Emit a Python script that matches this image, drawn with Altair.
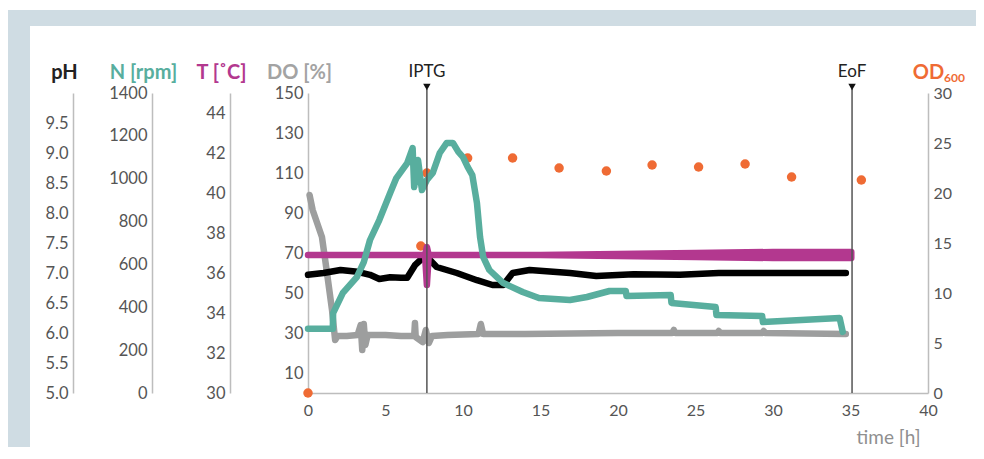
import altair as alt
import pandas as pd

# ---------------- data ----------------
ph_time = [0, 1.0, 2.1, 3.2, 4.0, 4.6, 5.3, 6.0, 6.4, 6.9, 7.4, 7.67, 8.3, 9.6,
           10.9, 11.9, 12.6, 13.2, 14.3, 16.9, 18.6, 21.0, 24.0, 26.5, 30.0, 34.7]
ph_value = [6.97, 7.0, 7.05, 7.02, 6.97, 6.9, 6.93, 6.92, 6.92, 7.13, 7.25, 7.27, 7.1, 7.0,
            6.88, 6.8, 6.8, 7.0, 7.05, 7.0, 6.95, 6.98, 6.97, 7.0, 7.0, 7.0]

n_time = [0, 1.6, 1.62, 2.25, 3.15, 3.6, 4.0, 4.6, 5.3, 5.7, 6.4, 6.75, 6.85, 7.1,
          7.35, 7.67, 8.05, 8.5, 8.95, 9.35, 9.7, 10.0, 10.3, 10.6, 10.9, 11.1, 11.3,
          11.7, 12.6, 13.85, 14.9, 16.9, 18.0, 19.45, 20.5, 20.55, 23.4, 23.45, 26.3,
          26.35, 29.3, 29.35, 34.3, 34.5]
n_value = [300, 300, 373, 467, 541, 611, 714, 807, 933, 1003, 1073, 1143, 961, 1087,
           947, 994, 1027, 1120, 1167, 1167, 1125, 1101, 1055, 1017, 887, 728, 635,
           574, 513, 471, 443, 434, 448, 476, 476, 453, 457, 420, 401,
           364, 359, 331, 350, 285]

t_time = [0, 7.55, 7.67, 7.79, 15, 20, 25, 30, 35.05]
t_low = [36.9, 36.9, 35.4, 36.9, 36.9, 36.85, 36.8, 36.75, 36.75]
t_high = [36.9, 36.9, 37.3, 36.9, 36.9, 36.95, 37.0, 37.05, 37.05]

do_time = [0.1, 0.3, 0.9, 1.2, 1.55, 1.75, 1.9, 2.5, 3.2, 3.4, 3.5, 3.6, 3.7, 3.85,
           5.0, 6.0, 6.85, 6.9, 6.95, 7.4, 7.6, 7.8, 8.0, 9.0, 11.0, 11.15, 11.3,
           14.0, 20.0, 23.5, 23.6, 23.7, 26.4, 26.5, 26.6, 29.3, 29.4, 29.5, 34.7]
do_value = [99, 91.5, 78, 61.5, 41.5, 26.5, 28.5, 28.5, 29, 34, 21.5, 34.5, 24, 29,
            29, 28.5, 28.5, 35, 28, 25.5, 31.5, 25, 28.5, 29, 29.5, 34.5, 29.5,
            29.5, 30, 30, 31.5, 30, 30, 31, 30, 30, 31, 30, 29.5]

od_time = [0, 7.28, 7.67, 10.3, 13.2, 16.2, 19.25, 22.2, 25.2, 28.2, 31.2, 35.7]
od_value = [0, 14.7, 22.0, 23.5, 23.5, 22.5, 22.2, 22.8, 22.6, 22.9, 21.6, 21.3]

event_names = ["IPTG", "EoF"]
event_time = [7.67, 35.1]

ph_ticks = [5.0, 5.5, 6.0, 6.5, 7.0, 7.5, 8.0, 8.5, 9.0, 9.5]
n_ticks = [0, 200, 400, 600, 800, 1000, 1200, 1400]
t_ticks = [30, 32, 34, 36, 38, 40, 42, 44]
do_ticks = [10, 30, 50, 70, 90, 110, 130, 150]
od_ticks = [0, 5, 10, 15, 20, 25, 30]
time_ticks = [0, 5, 10, 15, 20, 25, 30, 35, 40]

# ---------------- styles ----------------
FONT = "Lato"
LABEL = "#555555"
AXIS = "#bdbdbd"
C_PH = "#000000"
C_N = "#58ae9e"
C_T = "#b3388f"
C_DO = "#9d9e9e"
C_OD = "#ef6b34"
BAND = "#cfdce3"

W, H = 620, 300


def seq(t, v, name):
    return pd.DataFrame({"t": t, name: v, "i": list(range(len(t)))})


ph_df = seq(ph_time, ph_value, "pH")
n_df = seq(n_time, n_value, "N")
do_df = seq(do_time, do_value, "DO")
od_df = seq(od_time, od_value, "OD")
t_df = pd.DataFrame({"t": t_time, "lo": t_low, "hi": t_high})
ev_df = pd.DataFrame({"t": event_time, "name": event_names})
one = pd.DataFrame({"a": [0]})

x_enc = alt.X(
    "t:Q",
    scale=alt.Scale(domain=[0, 40], nice=False, zero=False),
    axis=alt.Axis(values=time_ticks, title="time [h]", titleFont=FONT, titleFontSize=19,
                  titleFontWeight="normal", titleColor="#8f8f8f", titleAlign="right",
                  titleBaseline="middle", titleX=612, titleY=44, labelFont=FONT,
                  labelFontSize=16, labelColor=LABEL, labelPadding=9, ticks=False,
                  tickSize=0, domainColor=AXIS, domainWidth=1.5, grid=False,
                  labelFlush=False),
)


def y_axis(title, color, offset, values, fmt, orient="left", title_x=-9, size=16.5):
    return alt.Axis(orient=orient, offset=offset, values=values, format=fmt, title=title,
                    titleColor=color, titleAngle=0, titleX=title_x, titleY=-21,
                    titleAlign="center", titleBaseline="middle", titleFontSize=20,
                    titleFontWeight="bold", titleFont=FONT, labelFont=FONT,
                    labelFontSize=size, labelColor=LABEL, labelPadding=5, ticks=False,
                    tickSize=0, domainColor=AXIS, domainWidth=1.5, grid=False)


line_style = dict(strokeWidth=6.5, strokeCap="round", strokeJoin="round")

# frame bands
band_left = alt.Chart(one).mark_rect(color=BAND).encode(
    x=alt.value(-300), x2=alt.value(-278), y=alt.value(-83), y2=alt.value(H + 70))
band_top = alt.Chart(one).mark_rect(color=BAND).encode(
    x=alt.value(-300), x2=alt.value(W + 60), y=alt.value(-83), y2=alt.value(-67))

od_layer = alt.Chart(od_df).mark_circle(color=C_OD, size=90, opacity=1).encode(
    x=x_enc,
    y=alt.Y("OD:Q", scale=alt.Scale(domain=[0, 30], nice=False),
            axis=y_axis("OD", C_OD, 0, od_ticks, "d", orient="right", title_x=0,
                        size=16)),
)

do_layer = alt.Chart(do_df).mark_line(color=C_DO, **line_style).encode(
    x=x_enc,
    y=alt.Y("DO:Q", scale=alt.Scale(domain=[0, 150], nice=False),
            axis=y_axis("DO [%]", "#a3a3a3", 0, do_ticks, "d")),
    order="i:Q",
)

ph_layer = alt.Chart(ph_df).mark_line(color=C_PH, **line_style).encode(
    x=x_enc,
    y=alt.Y("pH:Q", scale=alt.Scale(domain=[5, 10], nice=False, zero=False),
            axis=y_axis("pH", "#222222", 235, ph_ticks, ".1f")),
    order="i:Q",
)

t_layer = alt.Chart(t_df).mark_area(color=C_T, stroke=C_T, strokeWidth=6.5,
                                     strokeJoin="round", opacity=1).encode(
    x=x_enc,
    y=alt.Y("lo:Q", scale=alt.Scale(domain=[30, 45], nice=False, zero=False),
            axis=y_axis("T [˚C]", C_T, 78, t_ticks, "d")),
    y2="hi:Q",
)

n_layer = alt.Chart(n_df).mark_line(color=C_N, **line_style).encode(
    x=x_enc,
    y=alt.Y("N:Q", scale=alt.Scale(domain=[0, 1400], nice=False),
            axis=y_axis("N [rpm]", C_N, 156, n_ticks, "d")),
    order="i:Q",
)

rules = alt.Chart(ev_df).mark_rule(color="#555555", strokeWidth=1.5).encode(
    x=x_enc, y=alt.value(-4), y2=alt.value(H))
tri = alt.Chart(ev_df).mark_point(shape="triangle-down", filled=True, size=55,
                                  color="#111111", opacity=1).encode(
    x=x_enc, y=alt.value(-6))
ev_text = alt.Chart(ev_df).mark_text(font=FONT, fontSize=17, color="#222222",
                                     baseline="middle", align="center").encode(
    x=x_enc, y=alt.value(-21), text="name:N")

od_sub = alt.Chart(pd.DataFrame({"s": ["600"]})).mark_text(
    font=FONT, fontSize=12, fontWeight="bold", color=C_OD, align="left",
    baseline="middle").encode(x=alt.value(W + 16), y=alt.value(-15), text="s:N")

chart = alt.layer(
    band_left, band_top, od_layer, do_layer, ph_layer, t_layer, n_layer,
    rules, tri, ev_text, od_sub,
).resolve_scale(y="independent").properties(
    width=W, height=H,
    padding={"left": 300, "top": 85, "right": 48, "bottom": 54},
    autosize=alt.AutoSizeParams(type="none"),
).configure(background="white").configure_view(stroke="transparent")

chart.save("out.html", embed_options={"renderer": "svg", "actions": False})
